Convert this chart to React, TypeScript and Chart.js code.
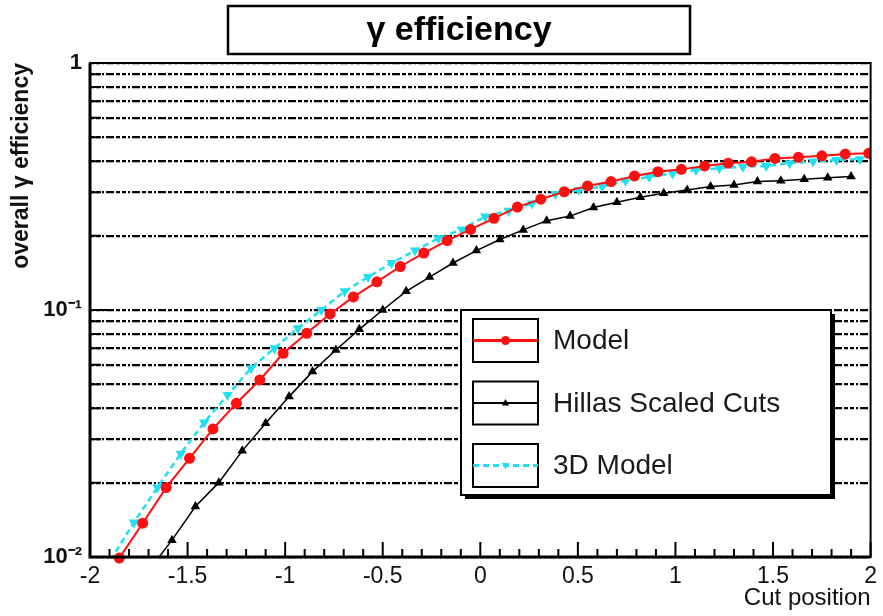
import { useEffect, useRef } from 'react';
import { Chart, registerables } from 'chart.js';

Chart.register(...registerables);

const titleText = 'γ efficiency';
const yAxisTitle = 'overall γ efficiency';
const xAxisTitle = 'Cut position';

const seriesNames = ['Model', 'Hillas Scaled Cuts', '3D Model'];
const seriesColors = ['#ff1010', '#000000', '#20e0f0'];

const xMajorTicks = [-2, -1.5, -1, -0.5, 0, 0.5, 1, 1.5, 2];
const yMajorTicks = [0.01, 0.1, 1];
const yMajorLabels = ['10⁻²', '10⁻¹', '1'];

const modelX = [-1.85, -1.73, -1.61, -1.49, -1.37, -1.25, -1.13, -1.01, -0.89, -0.77, -0.65, -0.53, -0.41, -0.29, -0.17, -0.05, 0.07, 0.19, 0.31, 0.43, 0.55, 0.67, 0.79, 0.91, 1.03, 1.15, 1.27, 1.39, 1.51, 1.63, 1.75, 1.87, 1.99];
const modelY = [0.0099, 0.0137, 0.0191, 0.0251, 0.033, 0.0419, 0.0521, 0.0668, 0.0805, 0.0964, 0.113, 0.13, 0.15, 0.17, 0.191, 0.212, 0.235, 0.261, 0.281, 0.301, 0.318, 0.331, 0.349, 0.363, 0.371, 0.383, 0.393, 0.398, 0.411, 0.415, 0.421, 0.428, 0.431];

const hillasX = [-1.7, -1.58, -1.46, -1.34, -1.22, -1.1, -0.98, -0.86, -0.74, -0.62, -0.5, -0.38, -0.26, -0.14, -0.02, 0.1, 0.22, 0.34, 0.46, 0.58, 0.7, 0.82, 0.94, 1.06, 1.18, 1.3, 1.42, 1.54, 1.66, 1.78, 1.9];
const hillasY = [0.0088, 0.0117, 0.016, 0.02, 0.0269, 0.0348, 0.0446, 0.0563, 0.0689, 0.0835, 0.1, 0.119, 0.136, 0.155, 0.174, 0.193, 0.211, 0.23, 0.24, 0.26, 0.273, 0.286, 0.297, 0.306, 0.316, 0.321, 0.331, 0.334, 0.338, 0.343, 0.347];

const model3dX = [-1.895, -1.775, -1.655, -1.535, -1.415, -1.295, -1.175, -1.055, -0.935, -0.815, -0.695, -0.575, -0.455, -0.335, -0.215, -0.095, 0.025, 0.145, 0.265, 0.385, 0.505, 0.625, 0.745, 0.865, 0.985, 1.105, 1.225, 1.345, 1.465, 1.585, 1.705, 1.825, 1.945];
const model3dY = [0.0097, 0.0138, 0.0191, 0.0262, 0.035, 0.0453, 0.0581, 0.07, 0.0843, 0.1, 0.119, 0.136, 0.155, 0.174, 0.195, 0.212, 0.239, 0.252, 0.27, 0.295, 0.306, 0.316, 0.334, 0.346, 0.357, 0.369, 0.375, 0.38, 0.383, 0.393, 0.399, 0.405, 0.408];

const FONT = "'Liberation Sans', Arial, Helvetica, sans-serif";

function buildXTicks(): number[] {
  const out: number[] = [];
  for (let i = 0; i < xMajorTicks.length - 1; i++) {
    const a = xMajorTicks[i];
    const b = xMajorTicks[i + 1];
    for (let k = 0; k < 5; k++) out.push(Math.round((a + ((b - a) * k) / 5) * 1000) / 1000);
  }
  out.push(xMajorTicks[xMajorTicks.length - 1]);
  return out;
}

function buildYTicks(): number[] {
  const out: number[] = [];
  for (let i = 0; i < yMajorTicks.length - 1; i++) {
    const base = yMajorTicks[i];
    for (let m = 1; m < 10; m++) out.push(Math.round(base * m * 10000) / 10000);
  }
  out.push(yMajorTicks[yMajorTicks.length - 1]);
  return out;
}

const xTickValues = buildXTicks();
const yTickValues = buildYTicks();

function drawMarker(ctx: CanvasRenderingContext2D, kind: string, x: number, y: number, r: number, color: string) {
  ctx.save();
  ctx.fillStyle = color;
  ctx.beginPath();
  if (kind === 'circle') {
    ctx.arc(x, y, r, 0, Math.PI * 2);
  } else if (kind === 'up') {
    ctx.moveTo(x, y - r);
    ctx.lineTo(x + r * 0.9, y + r * 0.6);
    ctx.lineTo(x - r * 0.9, y + r * 0.6);
    ctx.closePath();
  } else {
    ctx.moveTo(x, y + r);
    ctx.lineTo(x + r * 0.9, y - r * 0.6);
    ctx.lineTo(x - r * 0.9, y - r * 0.6);
    ctx.closePath();
  }
  ctx.fill();
  ctx.restore();
}

const decorPlugin = {
  id: 'decor',
  beforeDraw(chart: any) {
    const ctx = chart.ctx as CanvasRenderingContext2D;
    ctx.save();
    ctx.fillStyle = '#ffffff';
    ctx.fillRect(0, 0, chart.width, chart.height);
    ctx.restore();
  },
  afterDraw(chart: any) {
    const ctx = chart.ctx as CanvasRenderingContext2D;
    const ca = chart.chartArea;
    const xs = chart.scales.x;
    const ys = chart.scales.y;

    // inward ticks
    ctx.save();
    ctx.strokeStyle = '#000';
    ctx.lineWidth = 2;
    ctx.beginPath();
    xTickValues.forEach((v) => {
      const px = xs.getPixelForValue(v);
      const major = xMajorTicks.some((m) => Math.abs(m - v) < 1e-6);
      const len = major ? 15 : 8;
      ctx.moveTo(px, ca.bottom);
      ctx.lineTo(px, ca.bottom - len);
    });
    yTickValues.forEach((v) => {
      const py = ys.getPixelForValue(v);
      const major = yMajorTicks.some((m) => Math.abs(m - v) < 1e-9);
      const len = major ? 18 : 11;
      ctx.moveTo(ca.left, py);
      ctx.lineTo(ca.left + len, py);
    });
    ctx.stroke();

    // frame
    ctx.lineWidth = 2;
    ctx.strokeRect(ca.left, ca.top, ca.right - ca.left, ca.bottom - ca.top);
    ctx.lineWidth = 3;
    ctx.beginPath();
    ctx.moveTo(ca.left, ca.top);
    ctx.lineTo(ca.left, ca.bottom);
    ctx.lineTo(ca.right, ca.bottom);
    ctx.stroke();
    ctx.restore();

    // title box
    ctx.save();
    ctx.fillStyle = '#fff';
    ctx.fillRect(228, 6, 462, 48);
    ctx.strokeStyle = '#000';
    ctx.lineWidth = 2.5;
    ctx.strokeRect(228, 6, 462, 48);
    ctx.fillStyle = '#000';
    ctx.font = `bold 34px ${FONT}`;
    ctx.textAlign = 'center';
    ctx.textBaseline = 'middle';
    ctx.fillText(titleText, 459, 31);
    ctx.restore();

    // legend
    const lx0 = 461, ly0 = 310, lx1 = 831, ly1 = 495;
    ctx.save();
    ctx.fillStyle = '#000';
    ctx.fillRect(lx0 + 4, ly0 + 4, lx1 - lx0, ly1 - ly0);
    ctx.fillStyle = '#fff';
    ctx.fillRect(lx0, ly0, lx1 - lx0, ly1 - ly0);
    ctx.strokeStyle = '#000';
    ctx.lineWidth = 2;
    ctx.strokeRect(lx0, ly0, lx1 - lx0, ly1 - ly0);
    const kinds = ['circle', 'up', 'down'];
    chart.data.datasets.forEach((ds: any, i: number) => {
      const by = 319 + i * 62.5;
      const bx = 473;
      const bw = 65, bh = 43;
      const my = by + bh / 2;
      ctx.strokeStyle = '#000';
      ctx.lineWidth = 2;
      ctx.setLineDash([]);
      ctx.strokeRect(bx, by, bw, bh);
      ctx.strokeStyle = ds.borderColor;
      ctx.lineWidth = i === 1 ? 2 : 3;
      ctx.setLineDash(ds.borderDash || []);
      ctx.beginPath();
      ctx.moveTo(bx, my);
      ctx.lineTo(bx + bw, my);
      ctx.stroke();
      ctx.setLineDash([]);
      drawMarker(ctx, kinds[i], bx + bw / 2, my, i === 0 ? 4.5 : 4, ds.borderColor);
      ctx.fillStyle = '#1a1a1a';
      ctx.font = `28px ${FONT}`;
      ctx.textAlign = 'left';
      ctx.textBaseline = 'middle';
      ctx.fillText(ds.label, 553, my + 1);
    });
    ctx.restore();
  },
};

export default function App() {
  const ref = useRef<HTMLCanvasElement>(null);

  useEffect(() => {
    const canvas = ref.current;
    if (!canvas) return;
    Chart.defaults.font.family = FONT;
    const chart = new Chart(canvas, {
      type: 'line',
      data: {
        datasets: [
          {
            label: seriesNames[0],
            data: modelX.map((x, i) => ({ x, y: modelY[i] })),
            borderColor: seriesColors[0],
            backgroundColor: seriesColors[0],
            borderWidth: 2,
            pointStyle: 'circle',
            pointRadius: 5.5,
            pointBorderWidth: 0,
            tension: 0,
            clip: { left: 0, top: 0, right: 0, bottom: 8 },
          },
          {
            label: seriesNames[1],
            data: hillasX.map((x, i) => ({ x, y: hillasY[i] })),
            borderColor: seriesColors[1],
            backgroundColor: seriesColors[1],
            borderWidth: 1.5,
            pointStyle: 'triangle',
            pointRadius: 5.5,
            pointBorderWidth: 0,
            tension: 0,
            clip: 0,
          },
          {
            label: seriesNames[2],
            data: model3dX.map((x, i) => ({ x, y: model3dY[i] })),
            borderColor: seriesColors[2],
            backgroundColor: seriesColors[2],
            borderWidth: 2.5,
            borderDash: [6, 4],
            pointStyle: 'triangle',
            pointRotation: 180,
            pointRadius: 6,
            pointBorderWidth: 0,
            tension: 0,
            clip: 0,
          },
        ],
      } as any,
      options: {
        responsive: false,
        animation: false,
        devicePixelRatio: 1,
        layout: { padding: { top: 63, right: 8, left: 0, bottom: 0 } },
        plugins: {
          legend: { display: false },
          title: { display: false },
          tooltip: { enabled: false },
        },
        scales: {
          x: {
            type: 'linear',
            min: -2,
            max: 2,
            grid: { display: false, drawTicks: false },
            border: { display: false },
            afterBuildTicks: (s: any) => {
              s.ticks = xTickValues.map((v) => ({ value: v }));
            },
            afterFit: (s: any) => {
              s.height = 59;
            },
            ticks: {
              autoSkip: false,
              maxRotation: 0,
              minRotation: 0,
              padding: 6,
              color: '#111',
              font: { size: 23 },
              callback: (v: any) => {
                const n = Number(v);
                return xMajorTicks.some((m) => Math.abs(m - n) < 1e-6) ? String(Math.round(n * 10) / 10) : '';
              },
            },
            title: {
              display: true,
              text: xAxisTitle,
              align: 'end',
              color: '#111',
              font: { size: 24 },
              padding: { top: 0, bottom: 3 },
            },
          },
          y: {
            type: 'logarithmic',
            min: 0.01,
            max: 1,
            grid: { color: '#000', lineWidth: 2.2, drawTicks: false },
            border: { display: false, dash: [4, 2, 4, 2, 2, 2, 8, 2] },
            afterBuildTicks: (s: any) => {
              s.ticks = yTickValues.map((v) => ({ value: v }));
            },
            afterFit: (s: any) => {
              s.width = 90;
            },
            ticks: {
              autoSkip: false,
              padding: 8,
              color: '#111',
              font: { size: 22, weight: 'bold' },
              callback: (v: any) => {
                const n = Number(v);
                const idx = yMajorTicks.findIndex((m) => Math.abs(m - n) < 1e-9);
                return idx >= 0 ? yMajorLabels[idx] : '';
              },
            },
            title: {
              display: true,
              text: yAxisTitle,
              align: 'end',
              color: '#111',
              font: { size: 23, weight: 'bold' },
              padding: { top: 8, bottom: 0 },
            },
          },
        },
      } as any,
      plugins: [decorPlugin],
    });
    return () => chart.destroy();
  }, []);

  return (
    <div style={{ position: 'absolute', left: 0, top: 0, width: 883, height: 616, background: '#fff' }}>
      <canvas ref={ref} width={883} height={616} style={{ display: 'block', width: 883, height: 616 }} />
    </div>
  );
}
